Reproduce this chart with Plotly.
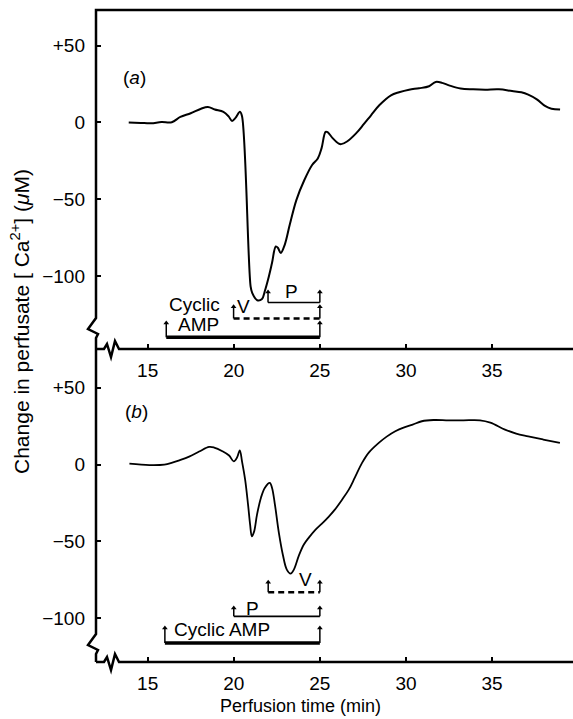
import plotly.graph_objects as go

# ---------------- data ----------------
# panel (a)
a_time = [13.9, 14.6, 15.2, 15.8, 16.4, 16.9, 17.5, 18.1, 18.5, 18.9, 19.4, 19.7, 19.9, 20.1, 20.36,
          20.48, 20.98, 21.07, 21.36, 21.64, 21.8, 22.0, 22.22, 22.44, 22.56, 22.73, 22.96, 23.25,
          23.64, 24.1, 24.55, 24.88, 25.1, 25.33, 25.45, 25.74, 26.1, 26.24, 26.6, 27.1, 27.55,
          27.97, 28.45, 29.13, 29.6, 30.18, 30.76, 31.34, 31.73, 32.1, 32.5, 33.17, 33.9, 34.6,
          35.4, 36.16, 36.7, 37.1, 37.6, 38.1, 38.45, 38.95]
a_ca = [0.0, -0.3, -0.5, 0.3, 0.2, 3.6, 6.0, 9.0, 10.1, 8.5, 6.9, 4.0, 1.0, 3.0, 7.0,
        4.0, -107.0, -111.0, -115.8, -115.0, -110.0, -102.0, -91.6, -80.8, -81.6, -85.0, -79.7, -66.7,
        -50.4, -37.5, -27.7, -23.4, -16.7, -6.1, -6.3, -10.2, -13.8, -14.1, -12.2, -7.1, -1.1,
        4.7, 11.2, 17.7, 19.7, 21.4, 22.3, 23.6, 26.4, 25.8, 24.2, 22.1, 21.6, 21.4,
        21.6, 20.5, 19.7, 18.2, 15.1, 10.6, 9.0, 8.4]

# panel (b)
b_time = [13.94, 15.1, 15.97, 16.43, 16.84, 17.41, 17.99, 18.57, 18.86, 19.34, 19.73, 20.0, 20.19,
          20.35, 20.48, 20.66, 20.83, 20.95, 21.05, 21.18, 21.35, 21.58, 21.8, 22.09, 22.22, 22.39,
          22.62, 22.85, 23.08, 23.3, 23.49, 23.78, 24.07, 24.36, 24.75, 25.12, 25.52, 25.87, 26.29,
          26.68, 27.03, 27.45, 27.84, 28.42, 28.88, 29.38, 29.86, 30.39, 30.92, 31.6, 32.47, 33.34,
          34.3, 34.9, 35.75, 36.4, 37.1, 37.97, 38.94]
b_ca = [0.6, -0.3, 0.0, 1.3, 2.8, 5.2, 8.5, 11.5, 11.1, 8.7, 5.9, 2.1, 4.6,
        9.3, 2.0, -9.8, -26.0, -39.0, -46.6, -43.6, -32.5, -21.5, -15.2, -11.9, -15.0, -26.0,
        -44.4, -58.6, -68.3, -70.9, -68.3, -59.2, -52.0, -47.5, -42.3, -38.4, -33.8, -29.3, -22.8,
        -16.3, -8.5, 1.1, 7.8, 14.1, 18.2, 21.7, 24.1, 26.0, 28.2, 29.0, 28.8, 28.8,
        28.8, 27.3, 22.8, 20.2, 18.4, 16.3, 14.1]

x_ticks = [15, 20, 25, 30, 35]
y_ticks = [50, 0, -50, -100]
y_ticktext = ["+50", "0", "\u221250", "\u2212100"]

# drug application bars: (start, end, level, tick top)
a_camp = (16.08, 25.0, -140.0, -130.7)
a_v = (19.99, 25.0, -127.7, -120.1)
a_p = (21.99, 25.0, -117.3, -110.4)
b_camp = (16.0, 25.0, -116.0, -106.3)
b_p = (20.0, 25.0, -98.7, -93.2)
b_v = (22.0, 25.0, -83.1, -76.6)

# ---------------- figure ----------------
W, H = 573, 719
def PX(x):
    return x / W
def PY(y):
    return 1 - y / H

FONT = "Liberation Sans, Arial, Helvetica, sans-serif"
fig = go.Figure()

fig.add_trace(go.Scatter(x=a_time, y=a_ca, mode="lines", line=dict(color="black", width=2),
                         line_shape="spline", xaxis="x", yaxis="y", hoverinfo="skip"))
fig.add_trace(go.Scatter(x=b_time, y=b_ca, mode="lines", line=dict(color="black", width=1.8),
                         line_shape="spline", xaxis="x2", yaxis="y2", hoverinfo="skip"))

def bracket(b, xa, ya, width, dash="solid"):
    t0, t1, lev, top = b
    fig.add_trace(go.Scatter(x=[t0, t1], y=[lev, lev], mode="lines",
                             line=dict(color="black", width=width, dash=dash),
                             xaxis=xa, yaxis=ya, hoverinfo="skip"))
    fig.add_trace(go.Scatter(x=[t0, t0, None, t1, t1], y=[lev, top, None, lev, top], mode="lines",
                             line=dict(color="black", width=1.5),
                             xaxis=xa, yaxis=ya, hoverinfo="skip"))
    fig.add_trace(go.Scatter(x=[t0, t1], y=[top, top], mode="markers",
                             marker=dict(symbol="triangle-up", size=5, color="black"),
                             xaxis=xa, yaxis=ya, hoverinfo="skip"))

bracket(a_camp, "x", "y", 3.5)
bracket(a_v, "x", "y", 2.5, dash="6px,4px")
bracket(a_p, "x", "y", 1.6)
bracket(b_camp, "x2", "y2", 3.5)
bracket(b_p, "x2", "y2", 1.6)
bracket(b_v, "x2", "y2", 2.5, dash="6px,4px")

xr = [12.0, 39.7]
ax_common = dict(showgrid=False, zeroline=False, showline=False, ticks="inside", ticklen=5,
                 tickwidth=2, tickcolor="black", tickfont=dict(family=FONT, size=19, color="black"))

fig.update_layout(
    width=W, height=H, margin=dict(l=0, r=0, t=0, b=0),
    paper_bgcolor="white", plot_bgcolor="white", showlegend=False,
    xaxis=dict(domain=[PX(96), 1], range=xr, anchor="y", tickvals=x_ticks,
               ticklabelstandoff=8, **ax_common),
    yaxis=dict(domain=[PY(349), PY(10)], range=[-147.6, 73.3], anchor="x",
               tickvals=y_ticks, ticktext=y_ticktext, ticklabelstandoff=10, **ax_common),
    xaxis2=dict(domain=[PX(96), 1], range=xr, anchor="y2", tickvals=x_ticks,
                ticklabelstandoff=8, **ax_common),
    yaxis2=dict(domain=[PY(662), PY(349)], range=[-128.4, 75.2], anchor="x2",
                tickvals=y_ticks, ticktext=y_ticktext, ticklabelstandoff=10, **ax_common),
)

# axis frame lines with breaks (pixel geometry -> paper coords)
def path(points):
    s = ""
    for i, (x, y) in enumerate(points):
        s += ("M" if i == 0 else "L") + f"{PX(x):.5f},{PY(y):.5f} "
    return s

frames = [
    [(573, 10), (96, 10), (96, 318), (88, 329), (98, 334), (96, 338), (96, 349)],
    [(96, 349), (104, 349), (107, 344), (111, 357), (115, 341), (119, 349), (573, 349)],
    [(96, 349), (96, 634), (88, 645), (98, 650), (96, 654), (96, 662)],
    [(96, 662), (104, 662), (107, 657), (111, 670), (115, 654), (119, 662), (573, 662)],
]
for pts in frames:
    fig.add_shape(type="path", path=path(pts), xref="paper", yref="paper",
                  line=dict(color="black", width=2.5), layer="above")

ann_font = dict(family=FONT, size=19, color="black")
anns = [
    dict(text="(<i>a</i>)", x=PX(134), y=PY(77.5), xref="paper", yref="paper"),
    dict(text="(<i>b</i>)", x=PX(136), y=PY(411.7), xref="paper", yref="paper"),
    dict(text="Cyclic", x=17.7, y=-118.5, xref="x", yref="y"),
    dict(text="AMP", x=17.95, y=-131.5, xref="x", yref="y"),
    dict(text="V", x=20.55, y=-119.7, xref="x", yref="y"),
    dict(text="P", x=23.35, y=-110.0, xref="x", yref="y"),
    dict(text="Cyclic AMP", x=19.33, y=-107.4, xref="x2", yref="y2"),
    dict(text="P", x=21.08, y=-93.7, xref="x2", yref="y2"),
    dict(text="V", x=24.17, y=-74.8, xref="x2", yref="y2"),
]
for a in anns:
    fig.add_annotation(showarrow=False, font=ann_font, xanchor="center", yanchor="middle", **a)

fig.add_annotation(text="Perfusion time (min)", x=PX(300), y=PY(706), xref="paper", yref="paper",
                   showarrow=False, font=dict(family=FONT, size=18, color="black"),
                   xanchor="center", yanchor="middle")
fig.add_annotation(text="Change in perfusate [ Ca<sup>2+</sup>] (<i>\u03bc</i>M)", x=PX(20), y=PY(322),
                   xref="paper", yref="paper", showarrow=False, textangle=-90,
                   font=dict(family=FONT, size=21, color="black"),
                   xanchor="center", yanchor="middle")

fig.write_html("out.html")
